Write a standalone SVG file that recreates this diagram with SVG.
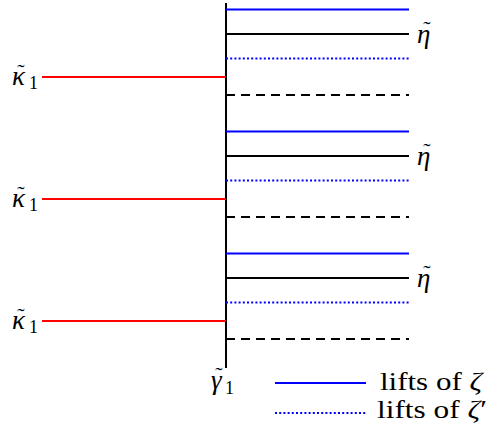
<svg xmlns="http://www.w3.org/2000/svg" width="490" height="433" viewBox="0 0 490 433">
<style>
.b{stroke:#0000ff;stroke-width:2;fill:none}
.k{stroke:#000;stroke-width:2;fill:none}
.d{stroke:#0000ff;stroke-width:2;stroke-dasharray:2 2.2;fill:none}
.h{stroke:#000;stroke-width:2;stroke-dasharray:9 6;fill:none}
.r{stroke:#ff0000;stroke-width:2;fill:none}
.m{font-family:"Liberation Serif",serif;font-style:italic;font-size:27px;fill:#000}
.tl{font-family:"Liberation Serif",serif;font-size:22px;fill:#000;text-anchor:middle}
.s{font-family:"Liberation Serif",serif;font-size:18px;fill:#000}
.t{font-family:"Liberation Serif",serif;font-size:26px;fill:#000}
</style>
<rect width="490" height="433" fill="#fff"/>
<g id="connectors">
<line class="k" x1="226" y1="3" x2="226" y2="368"/>
<g id="block1">
<line class="b" x1="226" y1="9.5" x2="409" y2="9.5"/>
<line class="k" x1="226" y1="34" x2="409" y2="34"/>
<line class="d" x1="226" y1="58.5" x2="409" y2="58.5"/>
<line class="r" x1="42" y1="77" x2="226" y2="77"/>
<line class="h" x1="226" y1="95" x2="409" y2="95"/>
</g>
<g id="block2">
<line class="b" x1="226" y1="131.5" x2="409" y2="131.5"/>
<line class="k" x1="226" y1="156" x2="409" y2="156"/>
<line class="d" x1="226" y1="180.5" x2="409" y2="180.5"/>
<line class="r" x1="42" y1="199" x2="226" y2="199"/>
<line class="h" x1="226" y1="217" x2="409" y2="217"/>
</g>
<g id="block3">
<line class="b" x1="226" y1="253.5" x2="409" y2="253.5"/>
<line class="k" x1="226" y1="278" x2="409" y2="278"/>
<line class="d" x1="226" y1="302.5" x2="409" y2="302.5"/>
<line class="r" x1="42" y1="321" x2="226" y2="321"/>
<line class="h" x1="226" y1="339" x2="409" y2="339"/>
</g>
</g>
<g id="eta1"><text class="m" x="417" y="43">η</text><text class="tl" x="427" y="36">˜</text></g>
<g id="eta2"><text class="m" x="417" y="165">η</text><text class="tl" x="427" y="158">˜</text></g>
<g id="eta3"><text class="m" x="417" y="287">η</text><text class="tl" x="427" y="280">˜</text></g>
<g id="kappa1"><text class="m" x="12" y="85">κ</text><text class="s" x="29" y="89">1</text><text class="tl" x="21" y="79">˜</text></g>
<g id="kappa2"><text class="m" x="12" y="207">κ</text><text class="s" x="29" y="211">1</text><text class="tl" x="21" y="201">˜</text></g>
<g id="kappa3"><text class="m" x="12" y="329">κ</text><text class="s" x="29" y="333">1</text><text class="tl" x="21" y="323">˜</text></g>
<g id="gamma1"><text class="m" x="211" y="389">γ</text><text class="s" x="225" y="394">1</text><text class="tl" x="219" y="382">˜</text></g>
<g id="legend">
<line class="b" x1="275" y1="383" x2="366" y2="383"/>
<text class="t" x="380" y="390" textLength="102" lengthAdjust="spacingAndGlyphs">lifts of <tspan font-style="italic">ζ</tspan></text>
<line class="d" x1="275" y1="413" x2="366" y2="413"/>
<text class="t" x="377" y="418" textLength="110" lengthAdjust="spacingAndGlyphs">lifts of <tspan font-style="italic">ζ</tspan>′</text>
</g>
</svg>
